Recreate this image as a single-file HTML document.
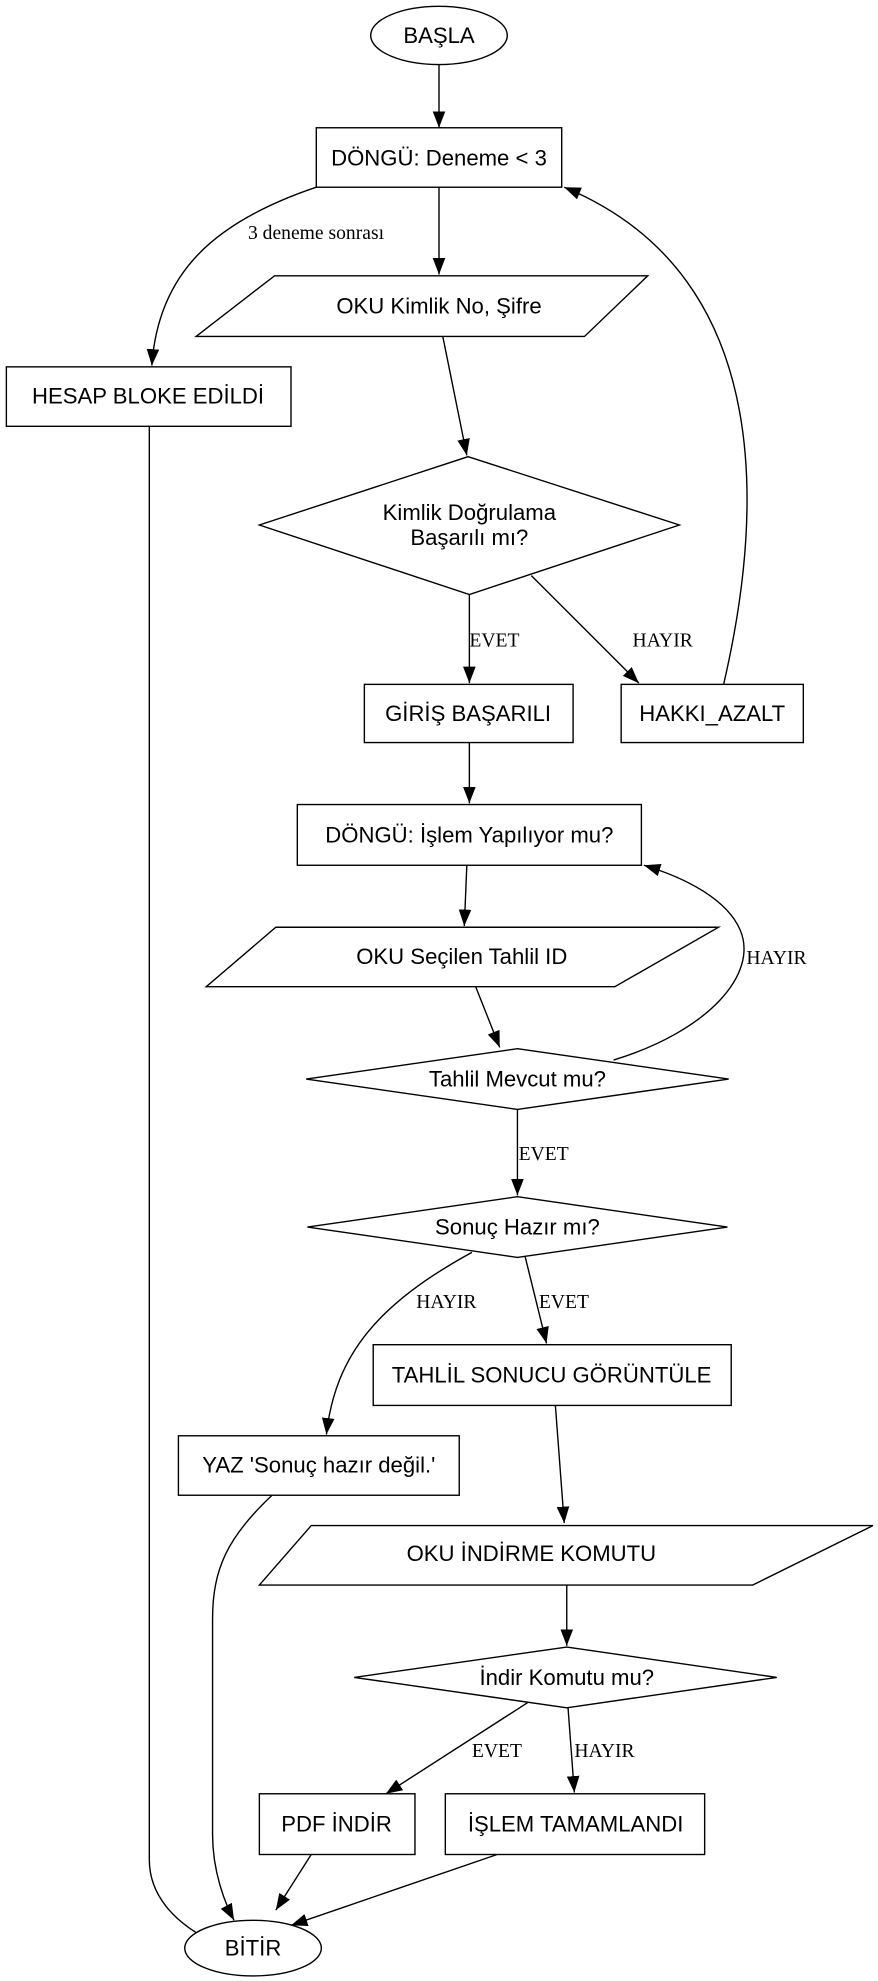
<!DOCTYPE html>
<html><head><meta charset="utf-8"><style>
html,body{margin:0;padding:0;background:#fff;}
svg{display:block;}
.n{font-family:"Liberation Sans",sans-serif;font-size:17.5px;text-anchor:middle;fill:#000;}
.e{font-family:"Liberation Serif",serif;font-size:15.5px;fill:#000;}
.s{fill:#fff;stroke:#000;stroke-width:1.1;}
.l{fill:none;stroke:#000;stroke-width:1.1;marker-end:url(#a);}
</style></head><body>
<svg width="878" height="1981" viewBox="0 0 694 1566" xmlns="http://www.w3.org/2000/svg">
<defs><marker id="a" markerWidth="13" markerHeight="10" refX="13" refY="5" orient="auto" markerUnits="userSpaceOnUse"><path d="M0,0 L13,5 L0,10 Z" fill="#000"/></marker></defs>
<path class="l" d="M347,51 L347,101"/>
<path class="l" d="M347,148 L347,217"/>
<path class="l" d="M250,148 C170,175 125,215 120,289"/>
<path class="l" d="M118,337 L118,1470 C118,1500 140,1522 172,1537"/>
<path class="l" d="M350,266 L369,360"/>
<path class="l" d="M371,470 L371,540"/>
<path class="l" d="M420,455 L505,540"/>
<path class="l" d="M572,541 C600,420 620,220 446,148"/>
<path class="l" d="M371,587 L371,635"/>
<path class="l" d="M369,684 L367,732"/>
<path class="l" d="M376,780 L395,828"/>
<path class="l" d="M485,838 C560,815 600,770 585,735 C575,712 545,695 509,684"/>
<path class="l" d="M409,877 L409,945"/>
<path class="l" d="M373,990 C300,1030 265,1070 258,1134"/>
<path class="l" d="M415,993 L432,1062"/>
<path class="l" d="M439,1111 L446,1204"/>
<path class="l" d="M215,1182 C180,1215 168,1240 168,1280 L168,1450 C168,1480 178,1505 185,1518"/>
<path class="l" d="M448,1253 L448,1301"/>
<path class="l" d="M417,1346 L305,1418"/>
<path class="l" d="M449,1350 L454,1417"/>
<path class="l" d="M246,1466 L218,1510"/>
<path class="l" d="M393,1466 L230,1522"/>
<text class="e" x="196" y="189">3 deneme sonrası</text>
<text class="e" x="371" y="511">EVET</text>
<text class="e" x="500" y="511">HAYIR</text>
<text class="e" x="590" y="762">HAYIR</text>
<text class="e" x="410" y="917">EVET</text>
<text class="e" x="329" y="1034">HAYIR</text>
<text class="e" x="426" y="1034">EVET</text>
<text class="e" x="373" y="1389">EVET</text>
<text class="e" x="454" y="1389">HAYIR</text>
<ellipse class="s" cx="347" cy="28" rx="54" ry="23"/><text class="n" x="347" y="34">BAŞLA</text>
<rect class="s" x="250" y="101" width="194" height="47"/><text class="n" x="347" y="131">DÖNGÜ: Deneme &lt; 3</text>
<polygon class="s" points="217,218 512,218 462,266 155,266"/><text class="n" x="347" y="248">OKU Kimlik No, Şifre</text>
<rect class="s" x="5" y="290" width="225" height="47"/><text class="n" x="117" y="319">HESAP BLOKE EDİLDİ</text>
<polygon class="s" points="370,361 537,415 371,470 205,415"/><text class="n" x="371" y="411">Kimlik Doğrulama</text><text class="n" x="371" y="431">Başarılı mı?</text>
<rect class="s" x="288" y="541" width="165" height="46"/><text class="n" x="370" y="570">GİRİŞ BAŞARILI</text>
<rect class="s" x="491" y="541" width="144" height="46"/><text class="n" x="563" y="570">HAKKI_AZALT</text>
<rect class="s" x="235" y="636" width="272" height="48"/><text class="n" x="371" y="666">DÖNGÜ: İşlem Yapılıyor mu?</text>
<polygon class="s" points="218,733 568,733 486,780 163,780"/><text class="n" x="365" y="762">OKU Seçilen Tahlil ID</text>
<polygon class="s" points="409,829 576,853 409,877 242,853"/><text class="n" x="409" y="859">Tahlil Mevcut mu?</text>
<polygon class="s" points="409,946 575,970 409,994 243,970"/><text class="n" x="409" y="976">Sonuç Hazır mı?</text>
<rect class="s" x="295" y="1063" width="283" height="48"/><text class="n" x="436" y="1093">TAHLİL SONUCU GÖRÜNTÜLE</text>
<rect class="s" x="141" y="1135" width="222" height="47"/><text class="n" x="252" y="1164">YAZ 'Sonuç hazır değil.'</text>
<polygon class="s" points="246,1206 690,1206 595,1253 205,1253"/><text class="n" x="420" y="1234">OKU İNDİRME KOMUTU</text>
<polygon class="s" points="448,1302 614,1326 448,1350 280,1326"/><text class="n" x="448" y="1332">İndir Komutu mu?</text>
<rect class="s" x="205" y="1418" width="123" height="48"/><text class="n" x="266" y="1448">PDF İNDİR</text>
<rect class="s" x="352" y="1418" width="205" height="48"/><text class="n" x="455" y="1448">İŞLEM TAMAMLANDI</text>
<ellipse class="s" cx="200" cy="1540" rx="54" ry="22"/><text class="n" x="200" y="1546">BİTİR</text>
</svg>
</body></html>
